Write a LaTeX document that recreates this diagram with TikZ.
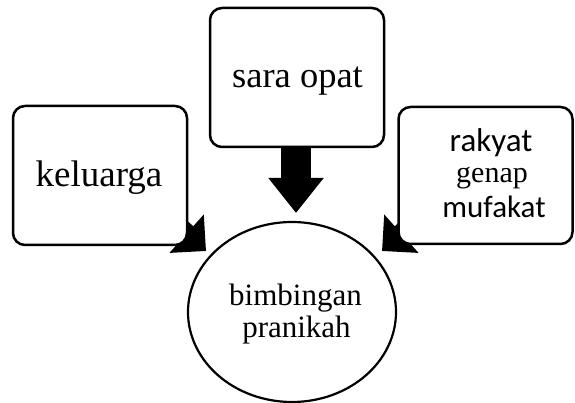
\documentclass[tikz,border=0pt]{standalone}
\usepackage{fontspec}
\setmainfont{Liberation Serif}
\newfontfamily\calib{Carlito}
\usetikzlibrary{arrows.meta,shapes.geometric}
\begin{document}
\begin{tikzpicture}[x=1pt,y=-1pt,
  boxnode/.style={draw=black,line width=2.5pt,rounded corners=12pt,fill=white,
    minimum width=174pt,minimum height=139pt,inner sep=0pt},
  ovalnode/.style={ellipse,draw=black,line width=2.2pt,fill=white,
    minimum width=208pt,minimum height=180pt,inner sep=0pt},
  txt/.style={anchor=base,inner sep=0pt},
  fatdown/.style={line width=30pt,-{Triangle[length=35pt,width=53pt]}},
  fatdiag/.style={line width=20pt,-{Triangle[length=26pt,width=50pt]}}]
\useasboundingbox (0,0) rectangle (575,403);
\fill[white] (0,0) rectangle (575,403);
% connector ends
\coordinate (ks) at (131,184);
\coordinate (kt) at (206,251);
\coordinate (rs) at (457,184);
\coordinate (rt) at (382,251);
\coordinate (st) at (296,213);
% ellipse
\node[ovalnode] (bp) at (292,312) {};
% arrows (shafts hidden behind boxes)
\draw[fatdiag] (ks) -- (kt);
\draw[fatdiag] (rs) -- (rt);
% boxes
\node[boxnode] (sara) at (297,77.5) {};
\node[boxnode] (kel) at (100,175.5) {};
\node[boxnode,minimum width=174pt,minimum height=137pt] (rak) at (485.5,175.5) {};
\draw[fatdown] (sara.south -| st) -- (st);
% texts
\node[txt] (t1) at (297.5,88) {\fontsize{36.5}{40}\selectfont sara opat};
\node[txt] (t2) at (99,187) {\fontsize{37}{40}\selectfont keluarga};
\node[txt] (t3) at (491,152) {\calib\fontsize{33}{36}\selectfont rakyat};
\node[txt] (t4) at (492,183) {\fontsize{30}{34}\selectfont genap};
\node[txt] (t5) at (494,218) {\calib\fontsize{31}{34}\selectfont mufakat};
\node[txt] (t6) at (295.5,305) {\fontsize{31}{34}\selectfont bimbingan};
\node[txt] (t7) at (296.5,337) {\fontsize{31}{34}\selectfont pranikah};
\end{tikzpicture}
\end{document}
